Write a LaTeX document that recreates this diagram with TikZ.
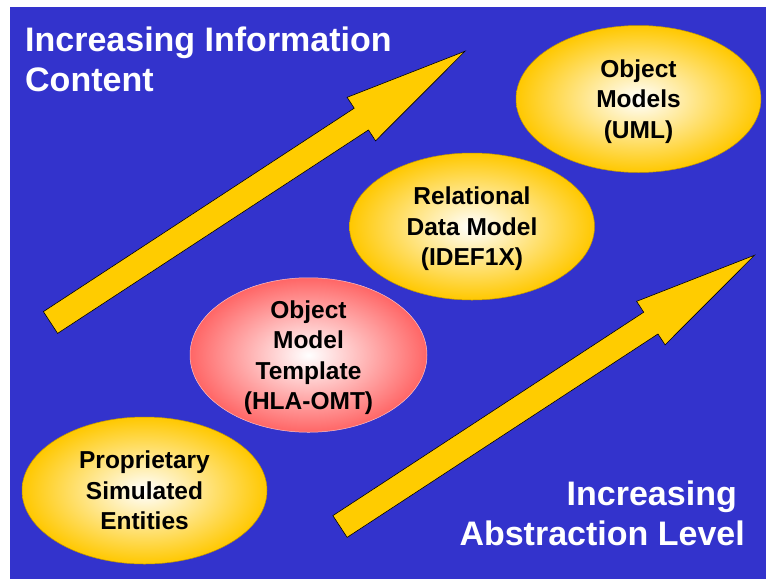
\documentclass[tikz,border=0pt]{standalone}
\usepackage{fontspec}
\setmainfont{Liberation Sans}
\usepackage{xcolor}
\usetikzlibrary{shapes.geometric}

\definecolor{slideblue}{RGB}{51,51,204}
\definecolor{arrowgold}{RGB}{255,204,0}
\definecolor{ovalgold}{RGB}{255,200,0}
\definecolor{ovalred}{RGB}{255,102,102}

\begin{document}
\begin{tikzpicture}[x=1pt, y=-1pt,
    bigarrow/.style={draw=black, line width=0.6pt, fill=arrowgold, line join=miter},
    caption/.style={text=white, font=\fontsize{34}{40}\selectfont\bfseries, inner sep=0pt},
    oval/.style={ellipse, inner sep=0pt, minimum width=245pt, minimum height=147pt,
        align=center, text depth=0pt, font=\fontsize{24.5}{30.5}\selectfont\bfseries,
        inner color=white, outer color=ovalgold, draw=ovalgold!75!black, line width=0.5pt},
    redoval/.style={oval, outer color=ovalred, draw=ovalred!40!white}]
    \useasboundingbox (0,0) rectangle (766,579);
    \fill[white] (0,0) rectangle (766,579);
    % Slide background.
    \fill[slideblue] (10,7) rectangle (766,579);

    % Two big rising arrows.
    \draw[bigarrow, shift={(50.5,322.5)}, rotate=33.2]
        (0,-13) -- (371.5,-13) -- (371.5,-26) -- (495.5,0) -- (371.5,26) -- (371.5,13) -- (0,13) -- cycle;
    \draw[bigarrow, shift={(340,526.5)}, rotate=33.2]
        (0,-13) -- (371.5,-13) -- (371.5,-26) -- (495.5,0) -- (371.5,26) -- (371.5,13) -- (0,13) -- cycle;

    % Captions (base = last line).
    \node[caption, anchor=base west, align=left] (info) at (25,91) {Increasing Information\\Content};
    \node[caption, anchor=base east, align=right] (abstr) at (745,545) {Increasing\hspace*{8pt}\\Abstraction Level};

    % Steps of the staircase.
    \node[oval] (prop) at (144.5,490.5) {Proprietary\\Simulated\\Entities};
    \node[redoval, minimum width=237pt, minimum height=146pt] (omt) at (308.5,355) {Object\\Model\\Template\\(HLA-OMT)};
    \node[oval] (rel) at (472,226.5) {Relational\\Data Model\\(IDEF1X)};
    \node[oval] (uml) at (638.5,99) {Object\\Models\\(UML)};
\end{tikzpicture}
\end{document}
